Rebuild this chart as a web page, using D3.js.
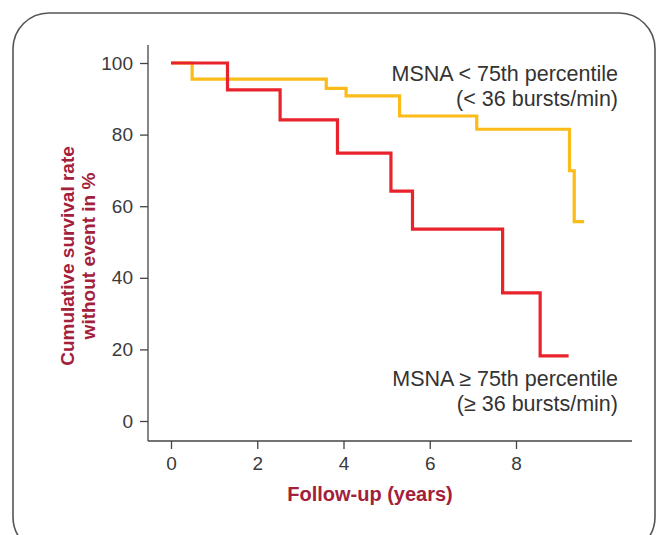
<!DOCTYPE html>
<html lang="en">
    <head>
        <meta charset="utf-8">
        <title>MSNA survival</title>
        <script type="text/javascript" src="https://cdn.jsdelivr.net/npm/d3@7"></script>
        <style>
            body { margin: 0; background: #fff; }
        </style>
    </head>
    <body>
        <script type="text/javascript">
        // Kaplan-Meier steps
        var lowTimes = [0, 0.49, 3.6, 4.06, 5.3, 7.09, 9.24, 9.35, 9.58];
        var lowSurv = [100, 95.5, 92.9, 90.8, 85.2, 81.5, 69.9, 55.7, 55.7];
        var highTimes = [0, 1.31, 2.53, 3.86, 5.1, 5.6, 7.69, 8.56, 9.22];
        var highSurv = [100, 92.5, 84.1, 74.8, 64.2, 53.6, 35.8, 18.2, 18.2];
        var xTicks = [0, 2, 4, 6, 8];
        var yTicks = [0, 20, 40, 60, 80, 100];

        var w = 657;
        var h = 535;
        var labelRed = "#a3203a";
        var font = "'Liberation Sans', Arial, sans-serif";

        var svg = d3.select("body")
                    .append("svg")
                    .attr("width", w)
                    .attr("height", h);

        // rounded frame
        svg.append("rect")
            .attr("x", 13)
            .attr("y", 13)
            .attr("width", 642)
            .attr("height", 540)
            .attr("rx", 36)
            .attr("fill", "none")
            .attr("stroke", "#555")
            .attr("stroke-width", 1.6);

        var xScale = d3.scaleLinear()
                    .domain([0, 8])
                    .range([171, 516]);

        var yScale = d3.scaleLinear()
                    .domain([0, 100])
                    .range([421, 63]);

        var axisY = 441;
        var axisX = 148;

        // axis lines
        svg.append("line")
            .attr("x1", axisX).attr("x2", axisX)
            .attr("y1", 45).attr("y2", axisY)
            .attr("stroke", "#444").attr("stroke-width", 1.3);
        svg.append("line")
            .attr("x1", axisX).attr("x2", 632)
            .attr("y1", axisY).attr("y2", axisY)
            .attr("stroke", "#444").attr("stroke-width", 1.3);

        var xAxis = d3.axisBottom(xScale)
                    .tickValues(xTicks)
                    .tickSize(8)
                    .tickPadding(8)
                    .tickSizeOuter(0);

        var yAxis = d3.axisLeft(yScale)
                    .tickValues(yTicks)
                    .tickSize(8)
                    .tickPadding(7)
                    .tickSizeOuter(0);

        var gx = svg.append("g")
            .attr("transform", "translate(0," + axisY + ")")
            .call(xAxis);
        var gy = svg.append("g")
            .attr("transform", "translate(" + axisX + ",0)")
            .call(yAxis);

        [gx, gy].forEach(function(g) {
            g.select(".domain").remove();
            g.selectAll("line").attr("stroke", "#444").attr("stroke-width", 1.3);
            g.selectAll("text")
                .attr("font-family", font)
                .attr("font-size", "19px")
                .attr("fill", "#3a3a3a");
        });

        var stepLine = d3.line()
                    .x(function(d) { return xScale(d[0]); })
                    .y(function(d) { return yScale(d[1]); })
                    .curve(d3.curveStepAfter);

        svg.append("path")
            .datum(d3.zip(lowTimes, lowSurv))
            .attr("d", stepLine)
            .attr("fill", "none")
            .attr("stroke", "#fbbb18")
            .attr("stroke-width", 3.2);

        svg.append("path")
            .datum(d3.zip(highTimes, highSurv))
            .attr("d", stepLine)
            .attr("fill", "none")
            .attr("stroke", "#e8232b")
            .attr("stroke-width", 3.2);

        // group labels
        var notes = [
            {t: "MSNA < 75th percentile", y: 81},
            {t: "(< 36 bursts/min)", y: 106},
            {t: "MSNA \u2265 75th percentile", y: 386},
            {t: "(\u2265 36 bursts/min)", y: 411}
        ];
        svg.selectAll("text.note")
            .data(notes)
            .enter()
            .append("text")
            .attr("class", "note")
            .attr("x", 618)
            .attr("y", function(d) { return d.y; })
            .attr("text-anchor", "end")
            .attr("font-family", font)
            .attr("font-size", "21.5px")
            .attr("fill", "#333")
            .text(function(d) { return d.t; });

        // axis titles
        svg.append("text")
            .attr("x", 370)
            .attr("y", 501)
            .attr("text-anchor", "middle")
            .attr("font-family", font)
            .attr("font-size", "20px")
            .attr("font-weight", "bold")
            .attr("fill", labelRed)
            .text("Follow-up (years)");

        var yTitle = svg.append("text")
            .attr("transform", "translate(74,256) rotate(-90)")
            .attr("text-anchor", "middle")
            .attr("font-family", font)
            .attr("font-size", "19px")
            .attr("font-weight", "bold")
            .attr("fill", labelRed);
        yTitle.append("tspan").attr("x", 0).attr("dy", 0).text("Cumulative survival rate");
        yTitle.append("tspan").attr("x", 0).attr("dy", 21).text("without event in %");

        </script>
    </body>
</html>
